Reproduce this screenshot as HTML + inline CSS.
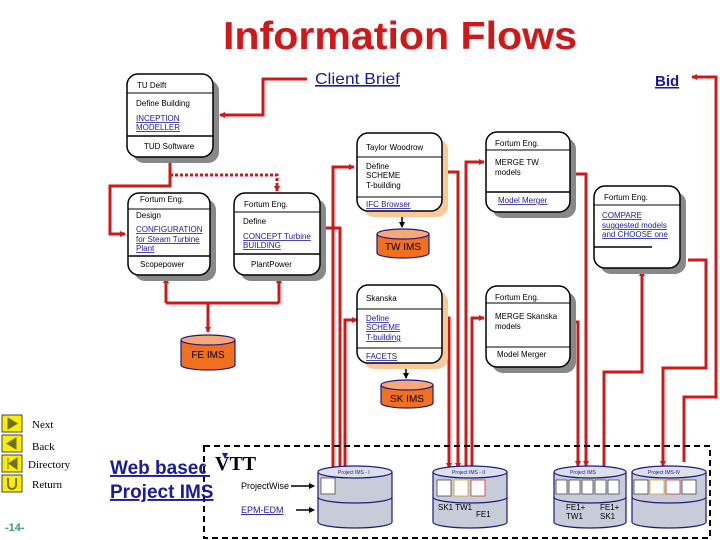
<!DOCTYPE html>
<html><head><meta charset="utf-8"><style>
body{margin:0;background:#fff;}
svg{display:block;font-family:"Liberation Sans",sans-serif;}
.t{font-size:8px;fill:#000;}
.l{font-size:8px;fill:#1a1aa0;text-decoration:underline;}
.r{stroke:#d01818;stroke-width:3;fill:none;}
</style></head><body>
<svg width="720" height="540" viewBox="0 0 720 540">
<defs>
<marker id="a" markerWidth="6" markerHeight="6" refX="5" refY="3" orient="auto" markerUnits="userSpaceOnUse"><path d="M0,0L6,3L0,6z" fill="#d01818"/></marker>
<marker id="b" markerWidth="6" markerHeight="6" refX="5" refY="3" orient="auto" markerUnits="userSpaceOnUse"><path d="M0,0L6,3L0,6z" fill="#000"/></marker>
</defs>
<text x="400" y="49" text-anchor="middle" font-size="39" font-weight="bold" fill="#d01818" textLength="354" lengthAdjust="spacingAndGlyphs">Information Flows</text>
<text x="315" y="84" font-size="16" fill="#1a1aa0" text-decoration="underline" textLength="85" lengthAdjust="spacingAndGlyphs">Client Brief</text>
<text x="655" y="86" font-size="15" font-weight="bold" fill="#1a1aa0" text-decoration="underline">Bid</text>

<!-- connectors -->
<polyline class="r" points="307,79 263,79 263,115 220,115" marker-end="url(#a)"/>
<polyline class="r" points="170,157 170,186 110,186 110,234 125,234" marker-end="url(#a)"/>
<polyline class="r" stroke-dasharray="3,2" points="170,175 277,175 277,191" marker-end="url(#a)"/>
<polyline class="r" points="166,303 166,278" marker-end="url(#a)"/>
<polyline class="r" points="279,303 279,278" marker-end="url(#a)"/>
<polyline class="r" points="166,303 279,303"/>
<polyline class="r" points="208,303 208,332" marker-end="url(#a)"/>
<polyline class="r" points="320,228 340,228 340,470"/>
<polyline class="r" points="333,470 333,167 354,167" marker-end="url(#a)"/>
<polyline class="r" points="345,470 345,320 357,320" marker-end="url(#a)"/>
<polyline class="r" points="442,172 458,172 458,468" marker-end="url(#a)"/>
<polyline class="r" points="442,318 449,318 449,468" marker-end="url(#a)"/>
<polyline class="r" points="466,470 466,162 484,162" marker-end="url(#a)"/>
<polyline class="r" points="472,470 472,318 484,318" marker-end="url(#a)"/>
<polyline class="r" points="570,174 586,174 586,466" marker-end="url(#a)"/>
<polyline class="r" points="570,322 578,322 578,466" marker-end="url(#a)"/>
<polyline class="r" points="604,470 604,372 642,372 642,271" marker-end="url(#a)"/>
<polyline class="r" points="688,260 706,260 706,368 663,368 663,466" marker-end="url(#a)"/>
<polyline class="r" points="684,462 684,397 716,397 716,77 692,77" marker-end="url(#a)"/>
<line x1="402" y1="211" x2="402" y2="227" stroke="#000" stroke-width="1.5" marker-end="url(#b)"/>
<line x1="406" y1="363" x2="406" y2="378" stroke="#000" stroke-width="1.5" marker-end="url(#b)"/>

<!-- boxes -->
<g stroke="#000" stroke-width="1.5">
<rect x="133" y="80" width="86" height="83" rx="11" fill="#888" stroke="none"/>
<rect x="127" y="74" width="86" height="83" rx="11" fill="#fff"/>
<line x1="127" y1="93" x2="213" y2="93" stroke-width="1"/><line x1="127" y1="136" x2="213" y2="136"/>
<rect x="134" y="199" width="82" height="82" rx="11" fill="#888" stroke="none"/>
<rect x="128" y="193" width="82" height="82" rx="11" fill="#fff"/>
<line x1="128" y1="209" x2="210" y2="209" stroke-width="1"/><line x1="128" y1="256" x2="210" y2="256"/>
<rect x="240" y="199" width="86" height="82" rx="11" fill="#888" stroke="none"/>
<rect x="234" y="193" width="86" height="82" rx="11" fill="#fff"/>
<line x1="234" y1="212" x2="320" y2="212" stroke-width="1"/><line x1="234" y1="254" x2="320" y2="254"/>
<rect x="363" y="139" width="85" height="78" rx="11" fill="#f8c898" stroke="none"/>
<rect x="357" y="133" width="85" height="78" rx="11" fill="#fff"/>
<line x1="357" y1="157" x2="442" y2="157" stroke-width="1"/><line x1="357" y1="197" x2="442" y2="197" stroke-width="1"/>
<rect x="363" y="291" width="85" height="78" rx="11" fill="#f8c898" stroke="none"/>
<rect x="357" y="285" width="85" height="78" rx="11" fill="#fff"/>
<line x1="357" y1="309" x2="442" y2="309" stroke-width="1"/><line x1="357" y1="348" x2="442" y2="348" stroke-width="1"/>
<rect x="492" y="138" width="84" height="80" rx="11" fill="#888" stroke="none"/>
<rect x="486" y="132" width="84" height="80" rx="11" fill="#fff"/>
<line x1="486" y1="150" x2="570" y2="150" stroke-width="1"/><line x1="486" y1="192" x2="570" y2="192"/>
<rect x="492" y="292" width="84" height="81" rx="11" fill="#888" stroke="none"/>
<rect x="486" y="286" width="84" height="81" rx="11" fill="#fff"/>
<line x1="486" y1="303" x2="570" y2="303" stroke-width="1"/><line x1="486" y1="347" x2="570" y2="347" stroke-width="1"/>
<rect x="600" y="192" width="86" height="82" rx="11" fill="#888" stroke="none"/>
<rect x="594" y="186" width="86" height="82" rx="11" fill="#fff"/>
<line x1="594" y1="205" x2="680" y2="205" stroke-width="1"/><line x1="594" y1="247" x2="652" y2="247"/>
</g>
<text class="t" x="137" y="88">TU Delft</text>
<text class="t" x="136" y="106">Define Building</text>
<text class="l" x="136" y="121">INCEPTION</text><text class="l" x="136" y="130">MODELLER</text>
<text class="t" x="144" y="149">TUD Software</text>
<text class="t" x="140" y="202">Fortum Eng.</text>
<text class="t" x="136" y="218">Design</text>
<text class="l" x="136" y="232">CONFIGURATION</text><text class="l" x="136" y="242">for Steam Turbine</text><text class="l" x="136" y="251">Plant</text>
<text class="t" x="140" y="267">Scopepower</text>
<text class="t" x="244" y="207">Fortum Eng.</text>
<text class="t" x="243" y="224">Define</text>
<text class="l" x="243" y="239">CONCEPT Turbine</text><text class="l" x="243" y="248">BUILDING</text>
<text class="t" x="251" y="267">PlantPower</text>
<text class="t" x="366" y="150">Taylor Woodrow</text>
<text class="t" x="366" y="169">Define</text><text class="t" x="366" y="178">SCHEME</text><text class="t" x="366" y="188">T-building</text>
<text class="l" x="366" y="207">IFC Browser</text>
<text class="t" x="366" y="301">Skanska</text>
<text class="l" x="366" y="321">Define</text><text class="l" x="366" y="330">SCHEME</text><text class="l" x="366" y="340">T-building</text>
<text class="l" x="366" y="359">FACETS</text>
<text class="t" x="495" y="146">Fortum Eng.</text>
<text class="t" x="495" y="165">MERGE TW</text><text class="t" x="495" y="175">models</text>
<text class="l" x="498" y="203">Model Merger</text>
<text class="t" x="495" y="300">Fortum Eng.</text>
<text class="t" x="495" y="319">MERGE Skanska</text><text class="t" x="495" y="329">models</text>
<text class="t" x="497" y="357">Model Merger</text>
<text class="t" x="604" y="200">Fortum Eng.</text>
<text class="l" x="602" y="218">COMPARE</text><text class="l" x="602" y="228">suggested models</text><text class="l" x="602" y="237">and CHOOSE one</text>

<!-- IMS cylinders -->
<g stroke="#1a1a80" stroke-width="1.2">
<path d="M181,340 v25 a27,5 0 0 0 54,0 v-25" fill="#f07020"/><ellipse cx="208" cy="340" rx="27" ry="5" fill="#f8a878"/>
<path d="M377,234 v19 a26,5 0 0 0 52,0 v-19" fill="#f07020"/><ellipse cx="403" cy="234" rx="26" ry="5" fill="#f8a878"/>
<path d="M381,385 v18 a26,5 0 0 0 52,0 v-18" fill="#f07020"/><ellipse cx="407" cy="385" rx="26" ry="5" fill="#f8a878"/>
</g>
<text x="208" y="358" text-anchor="middle" font-size="10">FE IMS</text>
<text x="403" y="250" text-anchor="middle" font-size="10">TW IMS</text>
<text x="407" y="402" text-anchor="middle" font-size="10">SK IMS</text>

<!-- bottom -->
<rect x="204" y="446" width="506" height="92" fill="none" stroke="#000" stroke-width="2" stroke-dasharray="6,4"/>
<g stroke="#1a1a80" stroke-width="1.2" fill="#c8ccd8">
<path d="M318,472 v50 a37,6 0 0 0 74,0 v-50"/><ellipse cx="355" cy="472" rx="37" ry="6" fill="#dde0ea"/><path d="M318,497 a37,6 0 0 0 74,0" fill="none"/>
<path d="M433,472 v50 a37,6 0 0 0 74,0 v-50"/><ellipse cx="470" cy="472" rx="37" ry="6" fill="#dde0ea"/><path d="M433,497 a37,6 0 0 0 74,0" fill="none"/>
<path d="M554,472 v50 a36,6 0 0 0 72,0 v-50"/><ellipse cx="590" cy="472" rx="36" ry="6" fill="#dde0ea"/><path d="M554,497 a36,6 0 0 0 72,0" fill="none"/>
<path d="M632,472 v50 a37,6 0 0 0 74,0 v-50"/><ellipse cx="669" cy="472" rx="37" ry="6" fill="#dde0ea"/><path d="M632,497 a37,6 0 0 0 74,0" fill="none"/>
</g>
<g font-size="5" fill="#1a1a80">
<text x="338" y="474">Project IMS - I</text><text x="452" y="474">Project IMS - II</text><text x="570" y="474">Project IMS</text><text x="648" y="474">Project IMS-IV</text>
</g>
<g fill="#fff" stroke="#333" stroke-width="0.7">
<rect x="321" y="478" width="14" height="16"/>
<rect x="437" y="480" width="14" height="16"/><rect x="454" y="480" width="14" height="16" stroke="#c8a000"/><rect x="471" y="480" width="14" height="16" stroke="#c02020"/>
<rect x="556" y="480" width="11" height="14"/><rect x="569" y="480" width="11" height="14"/><rect x="582" y="480" width="11" height="14"/><rect x="595" y="480" width="11" height="14"/><rect x="608" y="480" width="11" height="14"/>
<rect x="634" y="480" width="14" height="14"/><rect x="650" y="480" width="14" height="14" stroke="#c8a000"/><rect x="666" y="480" width="14" height="14" stroke="#c02020"/><rect x="682" y="480" width="14" height="14"/>
</g>
<text x="438" y="510" font-size="8">SK1 TW1</text><text x="476" y="517" font-size="8">FE1</text>
<text x="566" y="510" font-size="8">FE1+</text><text x="566" y="519" font-size="8">TW1</text>
<text x="600" y="510" font-size="8">FE1+</text><text x="600" y="519" font-size="8">SK1</text>

<text x="110" y="474" font-size="19" font-weight="bold" fill="#1a1aa0" text-decoration="underline">Web based</text>
<text x="110" y="498" font-size="19" font-weight="bold" fill="#1a1aa0" text-decoration="underline">Project IMS</text>
<rect x="206" y="453" width="12" height="22" fill="#fff"/>
<text x="215" y="470" font-size="20" font-weight="bold" font-family="Liberation Serif,serif">VTT</text>
<path d="M222,453 l6,0 l-3,6z" fill="#1a1ab0"/>
<text x="241" y="489" font-size="9">ProjectWise</text>
<text x="241" y="513" font-size="9" fill="#1a1aa0" text-decoration="underline">EPM-EDM</text>
<line x1="291" y1="486" x2="314" y2="486" stroke="#000" stroke-width="1.5" marker-end="url(#b)"/>
<line x1="296" y1="510" x2="314" y2="510" stroke="#000" stroke-width="1.5" marker-end="url(#b)"/>
<text x="5" y="531" font-size="11" font-weight="bold" fill="#3a9a70">-14-</text>

<g stroke="#444" stroke-width="1" fill="#f8f000">
<rect x="2" y="415" width="20" height="17"/><rect x="2" y="435" width="20" height="17"/><rect x="2" y="455" width="20" height="17"/><rect x="2" y="475" width="20" height="17"/>
</g>
<path d="M8,418 L17,423.5 L8,429z M16,438 L7,443.5 L16,449z M8,458 v11 M17,458 L9,463.5 L17,469z" fill="#707020" stroke="#707020"/>
<path d="M8,478 v7 a4,4 0 0 0 8,0 v-7" fill="none" stroke="#707020" stroke-width="2"/>
<g font-family="Liberation Serif,serif" font-size="11">
<text x="32" y="428">Next</text><text x="32" y="450">Back</text><text x="28" y="468">Directory</text><text x="32" y="488">Return</text>
</g>
</svg>
</body></html>
